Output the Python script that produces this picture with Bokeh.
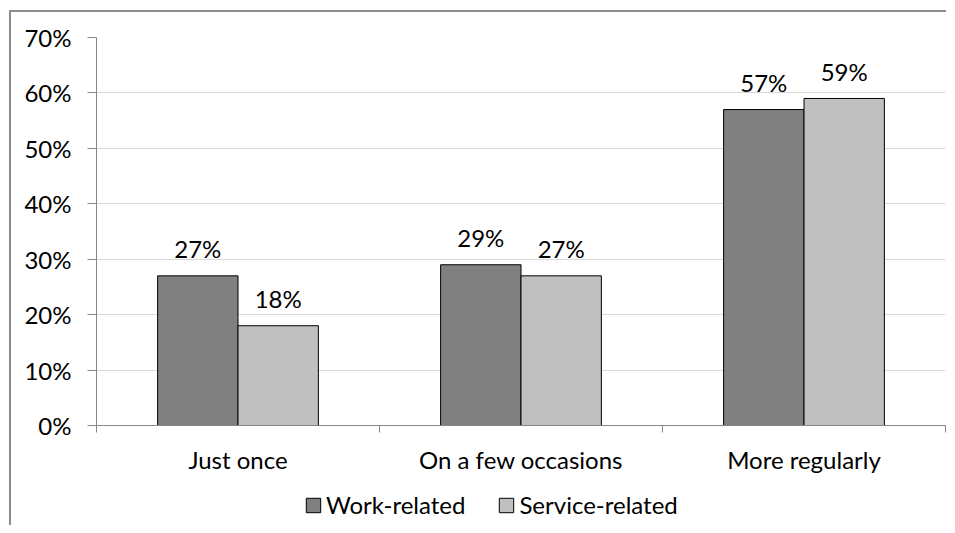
from bokeh.plotting import figure
from bokeh.layouts import column
from bokeh.models import (Range1d, FixedTicker, NumeralTickFormatter, ColumnDataSource,
                          Legend, LegendItem)
from bokeh.embed import file_html
from bokeh.resources import INLINE
from bokeh.core.properties import value

# ---- data ----
categories = ["Just once", "On a few occasions", "More regularly"]
series_names = ["Work-related", "Service-related"]
work_related = [0.27, 0.29, 0.57]
service_related = [0.18, 0.27, 0.59]
y_ticks = [0.0, 0.1, 0.2, 0.3, 0.4, 0.5, 0.6, 0.7]

FONT = "Lato"
FS = "24px"
colors = ["#808080", "#c0c0c0"]
bar_w = 0.284

centers = [i + 0.5 for i in range(len(categories))]

p = figure(width=935, height=473, output_backend="svg", toolbar_location=None,
           x_range=Range1d(0, len(categories)), y_range=Range1d(0, 0.7))
p.min_border_left = 85
p.min_border_right = 1
p.min_border_top = 25
p.min_border_bottom = 60
p.outline_line_color = None
p.background_fill_color = "white"
p.border_fill_color = "white"

for k, (vals, name) in enumerate(zip([work_related, service_related], series_names)):
    offset = (k - 0.5) * bar_w
    src = ColumnDataSource(dict(
        x=[c + offset for c in centers],
        top=vals,
        label=[f"{round(v * 100)}%" for v in vals],
    ))
    p.vbar(x="x", top="top", width=bar_w, bottom=0, source=src,
           fill_color=colors[k], line_color="black", line_width=1)
    p.text(x="x", y="top", text="label", source=src, text_align="center",
           text_baseline="alphabetic", y_offset=-27,
           text_font=value(FONT), text_font_size=FS, text_color="black")

# y axis
yax = p.yaxis[0]
yax.ticker = FixedTicker(ticks=y_ticks)
yax.formatter = NumeralTickFormatter(format="0%")
yax.axis_line_color = "#868686"
yax.major_tick_line_color = "#868686"
yax.major_tick_out = 9
yax.major_tick_in = 0
yax.minor_tick_line_color = None
yax.major_label_standoff = 16
yax.major_label_text_font = FONT
yax.major_label_text_font_size = FS
yax.major_label_text_color = "black"

# x axis: labels at category centres, tick marks at boundaries
xax = p.xaxis[0]
xax.ticker = FixedTicker(ticks=centers, minor_ticks=list(range(len(categories) + 1)))
xax.major_label_overrides = {c: cat for c, cat in zip(centers, categories)}
xax.axis_line_color = "#868686"
xax.major_tick_line_color = None
xax.major_tick_out = 0
xax.major_tick_in = 0
xax.minor_tick_line_color = "#868686"
xax.minor_tick_out = 7
xax.minor_tick_in = 0
xax.major_label_standoff = 12
xax.major_label_text_font = FONT
xax.major_label_text_font_size = FS
xax.major_label_text_color = "black"

p.xgrid.grid_line_color = None
p.ygrid.ticker = FixedTicker(ticks=y_ticks)
p.ygrid.grid_line_color = "#d9d9d9"
p.ygrid.grid_line_width = 1

# ---- legend strip below the chart ----
lp = figure(width=935, height=40, output_backend="svg", toolbar_location=None,
            x_range=Range1d(0, 1), y_range=Range1d(0, 1))
lp.axis.visible = False
lp.grid.grid_line_color = None
lp.outline_line_color = None
lp.min_border_left = lp.min_border_right = lp.min_border_top = lp.min_border_bottom = 0
swatches = []
for k in range(len(series_names)):
    # swatch renderer with a single undrawn (NaN) point, only used for the legend glyph
    swatches.append(lp.vbar(x=[float("nan")], top=[float("nan")], width=0.1,
                            fill_color=colors[k], line_color="black", line_width=1))
legend = Legend(items=[LegendItem(label=n, renderers=[r]) for n, r in zip(series_names, swatches)],
                orientation="horizontal", location=(208, 6),
                padding=0, margin=0, spacing=32, label_standoff=4,
                glyph_width=18, glyph_height=18, label_height=28,
                label_text_font=FONT, label_text_font_size=FS, label_text_color="black",
                border_line_color=None, background_fill_alpha=0)
lp.add_layout(legend, "center")

layout = column(p, lp, spacing=0,
                styles={"margin-left": "9px", "margin-top": "10px",
                        "border-left": "2px solid #8c8c8c", "border-top": "2px solid #8c8c8c"})

open("out.html", "w").write(file_html(layout, INLINE))
